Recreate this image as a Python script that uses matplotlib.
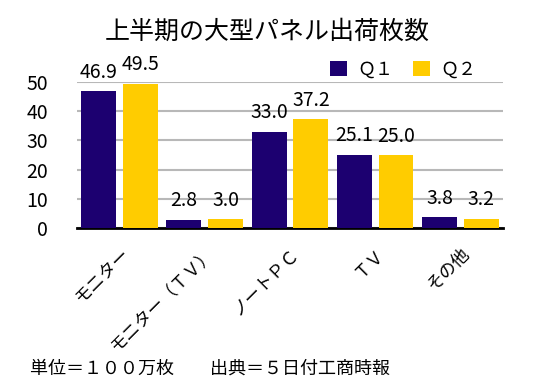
import numpy as np
import matplotlib
matplotlib.use("Agg")
import matplotlib.pyplot as plt

plt.rcParams['font.family'] = ['Noto Sans CJK JP', 'DejaVu Sans']

# --- data ---
categories = ["モニター", "モニター（ＴＶ）", "ノートＰＣ", "ＴＶ", "その他"]
q1_values = [46.9, 2.8, 33.0, 25.1, 3.8]
q2_values = [49.5, 3.0, 37.2, 25.0, 3.2]
series_names = ["Ｑ１", "Ｑ２"]
y_ticks = [0, 10, 20, 30, 40, 50]

Q1_COLOR = "#1c0070"
Q2_COLOR = "#ffcc00"

fig = plt.figure(figsize=(5.35, 3.8), dpi=100)
ax = fig.add_axes([0.144, 0.40, 0.796, 0.384])

x = np.arange(len(categories))
w = 0.41
off = 0.245
b1 = ax.bar(x - off, q1_values, w, color=Q1_COLOR, label=series_names[0], zorder=3)
b2 = ax.bar(x + off, q2_values, w, color=Q2_COLOR, label=series_names[1], zorder=3)

# value labels on top of bars
for bars, vals in ((b1, q1_values), (b2, q2_values)):
    for bar, v in zip(bars, vals):
        ax.annotate(f"{v:.1f}", (bar.get_x() + bar.get_width() / 2, v),
                    xytext=(0, 6), textcoords='offset points',
                    ha='center', va='bottom', fontsize=14, zorder=4,
                    annotation_clip=False)

ax.set_xlim(-0.5, len(categories) - 0.5)
ax.set_ylim(0, 50)
ax.set_yticks(y_ticks)
ax.set_yticklabels([str(t) for t in y_ticks], fontsize=14)
ax.tick_params(axis='y', length=0, pad=21)
ax.yaxis.grid(True, color="#b8b8b8", linewidth=1.5, zorder=0)
ax.set_axisbelow(True)

ax.set_xticks(x)
ax.set_xticklabels(categories, fontsize=12.5, rotation=45, ha='right',
                   rotation_mode='anchor')
ax.tick_params(axis='x', length=0, pad=12)

for s in ("left", "right", "top"):
    ax.spines[s].set_visible(False)
ax.spines["bottom"].set_linewidth(2)
ax.spines["bottom"].set_color("black")

leg = ax.legend(loc='lower right', bbox_to_anchor=(0.955, 0.975), ncol=2, frameon=False,
                fontsize=13, handlelength=0.9, handleheight=0.9, columnspacing=1.1,
                handletextpad=0.6, borderaxespad=0)

fig.text(0.5, 0.915, "上半期の大型パネル出荷枚数", ha='center', va='center', fontsize=18)
fig.text(0.056, 0.03, "単位＝１００万枚　　出典＝５日付工商時報", ha='left', va='center',
         fontsize=13)

fig.savefig("out.png", dpi=100)
